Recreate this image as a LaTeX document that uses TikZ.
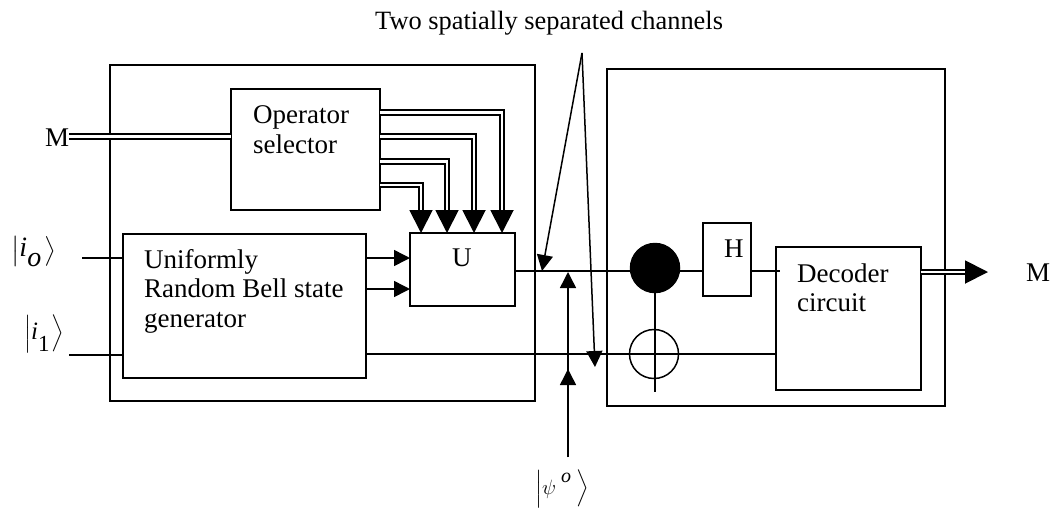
\documentclass[tikz,border=0pt]{standalone}
\usepackage{fontspec}
\usepackage{amsmath}
\setmainfont{Liberation Serif}
\usetikzlibrary{arrows.meta}
\newcommand{\sized}[1]{\fontsize{#1}{#1}\selectfont}
\tikzstyle{block} = [rectangle, draw, line width=1.5pt, inner sep=0pt, outer sep=0pt, anchor=north west]
\tikzstyle{txt} = [inner sep=0pt, anchor=base west, font=\sized{27}]
\tikzstyle{ket} = [inner sep=0pt, anchor=base west, font=\sized{22}]
\tikzstyle{wire} = [line width=1.5pt]
\tikzstyle{arrow} = [line width=1.5pt,-{Triangle[length=16pt,width=16pt]}]
\tikzstyle{bus} = [line width=1.9pt,double,double distance=2.6pt]
\tikzstyle{busarrow} = [bus,-{Triangle[length=23pt,width=23pt]}]
\begin{document}
\begin{tikzpicture}[x=1pt,y=-1pt]
    \useasboundingbox (0,0) rectangle (1051,509);
    % outer frames
    \node(sender)[block, minimum width=425pt, minimum height=336pt] at (110,65){};
    \node(receiver)[block, minimum width=338pt, minimum height=337pt] at (607,69){};
    % blocks
    \node(selector)[block, minimum width=149pt, minimum height=121pt] at (231,89){};
    \node(bellgen)[block, minimum width=243pt, minimum height=144pt] at (123,234){};
    \node(unitary)[block, minimum width=105pt, minimum height=73pt] at (410,233){};
    \node(hgate)[block, minimum width=48pt, minimum height=73pt] at (703,223){};
    \node(decoder)[block, minimum width=145pt, minimum height=143pt] at (776,247){};
    \node(ctrl)[circle, draw, fill=black, line width=1.5pt, minimum size=49pt, inner sep=0pt, outer sep=0pt] at (655,268){};
    \node(target)[circle, draw, line width=1.5pt, minimum size=49pt, inner sep=0pt, outer sep=0pt] at (654,354){};
    % texts
    \node(opone)[txt] at (253,123){Operator};
    \node(optwo)[txt] at (253,153){selector};
    \node(bellone)[txt] at (144,268){Uniformly};
    \node(belltwo)[txt] at (144,297){Random Bell state};
    \node(bellthree)[txt] at (144,327){generator};
    \node(decone)[txt] at (797,282){Decoder};
    \node(dectwo)[txt] at (797,311){circuit};
    \node(hname)[txt] at (724,257){H};
    \node(uname)[txt] at (452,266){U};
    \node(chan)[txt, font=\sized{26.4}] at (375,29.5){Two spatially separated channels};
    \node(min)[txt] at (45,146){M};
    \node(mout)[txt] at (1026,281){M};
    \node(izero)[ket, font=\sized{28}] at (11,258){$\bigl\lvert$\raisebox{2pt}{\textit{i}}\raisebox{-8pt}{\textit{o}}\kern3pt$\bigr\rangle$};
    \node(ione)[ket, font=\sized{25}] at (24,339){{\sized{21}$\Bigl\lvert$}\textit{i}\raisebox{-12pt}{\sized{23}1}\kern2pt{\sized{21}$\Bigr\rangle$}};
    \node(psi)[ket] at (535,494){$\Bigl\lvert\psi$\kern5pt\raisebox{12pt}{\sized{20}\textit{o}}\kern5pt$\Bigr\rangle$};
    % free ends
    \coordinate (apex) at (582,53);
    \coordinate (chanupper) at (542,271);
    \coordinate (chanlower) at (595,367);
    \coordinate (psifoot) at (568,457);
    \coordinate (psiupper) at (568,272);
    \coordinate (psilower) at (568,369);
    \coordinate (busin) at (69,136.5);
    \coordinate (busout) at (988,272);
    \coordinate (izerowire) at (82,258);
    \coordinate (ionewire) at (69,355);
    \coordinate (targetfoot) at (655,392);
    % connectors
    \draw [bus] (busin) -- (selector.west |- busin);
    \draw [busarrow] (selector.east |- 0,112.5) -| ([xshift=92pt]unitary.north west);
    \draw [busarrow] (selector.east |- 0,136.5) -| ([xshift=64pt]unitary.north west);
    \draw [busarrow] (selector.east |- 0,161.5) -| ([xshift=37pt]unitary.north west);
    \draw [busarrow] (selector.east |- 0,185) -| ([xshift=11pt]unitary.north west);
    \draw [wire] (izerowire) -- (bellgen.west |- izerowire);
    \draw [wire] (ionewire) -- (bellgen.west |- ionewire);
    \draw [arrow] (bellgen.east |- 0,258) -- (unitary.west |- 0,258);
    \draw [arrow] (bellgen.east |- 0,289) -- (unitary.west |- 0,289);
    \draw [wire] (unitary.east |- 0,271) -- (ctrl.east |- 0,271) -- (hgate.west |- 0,271);
    \draw [wire] (hgate.east |- 0,271) -- ([xshift=4pt]decoder.west |- 0,271);
    \draw [wire] (bellgen.east |- 0,354) -- (decoder.west |- 0,354);
    \draw [wire] (ctrl) -- (targetfoot);
    \draw [busarrow] (decoder.east |- busout) -- (busout);
    \draw [arrow] (psifoot) -- (psiupper);
    \draw [arrow] (psifoot) -- (psilower);
    \draw [arrow] (apex) -- (chanupper);
    \draw [arrow] (apex) -- (chanlower);
\end{tikzpicture}
\end{document}
